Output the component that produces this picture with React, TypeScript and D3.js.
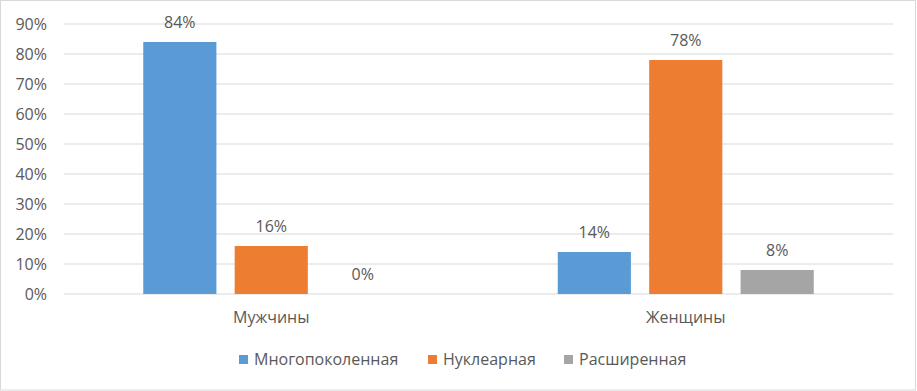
import React, { useRef, useEffect } from 'react';
import * as d3 from 'd3';

const categories = ['Мужчины', 'Женщины'];
const seriesNames = ['Многопоколенная', 'Нуклеарная', 'Расширенная'];
const seriesColors = ['#5b9bd5', '#ed7d31', '#a5a5a5'];
const values = [
  [84, 16, 0],
  [14, 78, 8],
];
const yTicks = [0, 10, 20, 30, 40, 50, 60, 70, 80, 90];

const App = () => {
  const chartRef = useRef<SVGSVGElement | null>(null);

  useEffect(() => {
    const svg = d3.select(chartRef.current);
    svg.selectAll('*').remove();

    const width = 917;
    const height = 391;
    const font = "'Open Sans', 'Liberation Sans', sans-serif";
    const textColor = '#595959';

    // outer frame
    svg.append('rect')
      .attr('x', 0.5).attr('y', 0.5)
      .attr('width', width - 2).attr('height', height - 1.5)
      .attr('fill', '#fff')
      .attr('stroke', '#d9d9d9');

    const x0 = d3.scaleBand().domain(categories).range([64, 893]);
    const x1 = d3.scaleBand().domain(seriesNames).range([0, 256]).paddingInner(0.2).paddingOuter(0);
    const y = d3.scaleLinear().domain([0, 90]).range([294, 24]);

    // grid + y labels
    svg.append('g').selectAll('line')
      .data(yTicks)
      .enter().append('line')
      .attr('x1', 64).attr('x2', 893)
      .attr('y1', (d) => y(d)).attr('y2', (d) => y(d))
      .attr('stroke', '#d9d9d9').attr('stroke-width', 1);

    svg.append('g').selectAll('text')
      .data(yTicks)
      .enter().append('text')
      .attr('x', 47).attr('y', (d) => y(d))
      .attr('dy', '0.35em')
      .attr('text-anchor', 'end')
      .style('font-family', font).style('font-size', '16px')
      .attr('fill', textColor)
      .text((d) => `${d}%`);

    // bars
    const groups = svg.append('g').selectAll('g')
      .data(categories)
      .enter().append('g')
      .attr('transform', (c) => `translate(${(x0(c) as number) + (x0.bandwidth() - 256) / 2},0)`);

    groups.each(function (c, ci) {
      const g = d3.select(this);
      seriesNames.forEach((s, si) => {
        const v = values[ci][si];
        g.append('rect')
          .attr('x', x1(s) as number)
          .attr('y', y(v))
          .attr('width', x1.bandwidth())
          .attr('height', y(0) - y(v))
          .attr('fill', seriesColors[si]);
        g.append('text')
          .attr('x', (x1(s) as number) + x1.bandwidth() / 2)
          .attr('y', y(v) - 14)
          .attr('text-anchor', 'middle')
          .style('font-family', font).style('font-size', '16px')
          .attr('fill', textColor)
          .text(`${v}%`);
      });
    });

    // category labels
    svg.append('g').selectAll('text')
      .data(categories)
      .enter().append('text')
      .attr('x', (c) => (x0(c) as number) + x0.bandwidth() / 2)
      .attr('y', 323)
      .attr('text-anchor', 'middle')
      .style('font-family', font).style('font-size', '16px')
      .attr('fill', textColor)
      .text((c) => c);

    // legend
    const legendX = [239, 428, 564];
    seriesNames.forEach((s, i) => {
      svg.append('rect')
        .attr('x', legendX[i]).attr('y', 355)
        .attr('width', 9).attr('height', 9)
        .attr('fill', seriesColors[i]);
      svg.append('text')
        .attr('x', legendX[i] + 15).attr('y', 365)
        .style('font-family', font).style('font-size', '16px')
        .attr('fill', textColor)
        .text(s);
    });
  }, []);

  return (
    <svg
      ref={chartRef}
      width={917}
      height={391}
      style={{ position: 'absolute', left: 0, top: 0, background: '#fff' }}
    />
  );
};

export default App;
